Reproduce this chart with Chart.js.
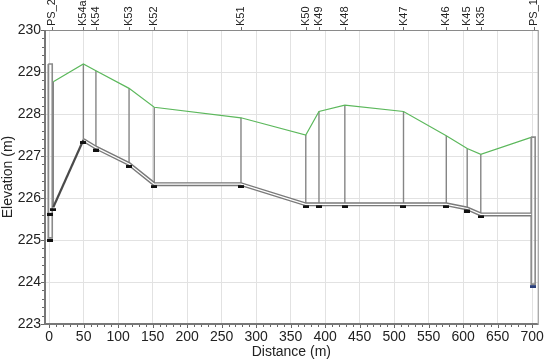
<!DOCTYPE html>
<html>
<head>
<meta charset="utf-8">
<script src="https://cdn.jsdelivr.net/npm/chart.js@4"></script>
<style>
  html, body { margin: 0; padding: 0; background: #fff; }
  #wrap { width: 550px; height: 360px; }
</style>
</head>
<body>
<div id="wrap"><canvas id="chart" width="550" height="360"></canvas></div>
<script>
// manhole nodes along the profile
const nodeNames = ['PS_2', 'K54a', 'K54', 'K53', 'K52', 'K51', 'K50', 'K49', 'K48', 'K47', 'K46', 'K45', 'K35', 'PS_1'];
const labelDist = [4.5, 49.6, 67.8, 115.8, 152.3, 278, 371.9, 391, 428.5, 513.5, 575.5, 605.8, 625.5, 702];

const nodeDist = [6, 49.6, 67.8, 115.8, 152.3, 278, 371.9, 391, 428.5, 513.5, 575.5, 605.8, 625.5];
const groundElev = [228.77, 229.19, 229.03, 228.61, 228.16, 227.91, 227.5, 228.06, 228.21, 228.06, 227.48, 227.18, 227.04];
const invertElev = [225.78, 227.38, 227.2, 226.81, 226.33, 226.33, 225.85, 225.85, 225.85, 225.85, 225.85, 225.75, 225.61];

// pump stations (wet wells)
const ps2Dist = [-1.3, 4.5];
const ps2Elev = [229.19, 225.05];
const ps2Levels = [225.67, 225.05];
const ps1Dist = [698.5, 704.3];
const ps1Elev = [227.45, 223.95];
const ps1Pipe = 225.61;

const xTicks = [0, 50, 100, 150, 200, 250, 300, 350, 400, 450, 500, 550, 600, 650, 700];
const yTicks = [223, 224, 225, 226, 227, 228, 229, 230];

const FONT = "'Liberation Sans', Arial, sans-serif";

function markerImg(color) {
    const c = document.createElement('canvas');
    c.width = 6;
    c.height = 8;
    const g = c.getContext('2d');
    g.fillStyle = color;
    g.fillRect(0, 5, 6, 3);
    return c;
}
const blackMark = markerImg('#111');
const blueMark = markerImg('#2a3f7a');

// ground line: nodes + PS_1 top
const groundPts = nodeDist.map((d, i) => ({ x: d, y: groundElev[i] }));
groundPts.push({ x: ps1Dist[0] + 1, y: ps1Elev[0] });

// pipe from K54a onwards (double line), first leg is a rising main
const risingPts = [0, 1].map(i => ({ x: nodeDist[i], y: invertElev[i] }));
const pipePts = nodeDist.slice(1).map((d, i) => ({ x: d, y: invertElev[i + 1] }));
pipePts.push({ x: ps1Dist[0], y: ps1Pipe });

// manhole verticals
const vertPts = [];
nodeDist.forEach((d, i) => {
    vertPts.push({ x: d, y: groundElev[i] }, { x: d, y: invertElev[i] }, { x: d, y: null });
});

function wellPts(xs, ys) {
    return [
        { x: xs[0], y: ys[0] }, { x: xs[1], y: ys[0] },
        { x: xs[1], y: ys[1] }, { x: xs[0], y: ys[1] },
        { x: xs[0], y: ys[0] }
    ];
}

const markerPts = nodeDist.map((d, i) => ({ x: d, y: invertElev[i] }));
ps2Levels.forEach(v => markerPts.push({ x: (ps2Dist[0] + ps2Dist[1]) / 2, y: v }));

const frameAndLabels = {
    id: 'frameAndLabels',
    afterDraw(chart) {
        const { ctx, chartArea: a, scales } = chart;
        ctx.save();
        ctx.strokeStyle = '#8a8a8a';
        ctx.lineWidth = 1;
        ctx.strokeRect(a.left + 0.5, a.top + 0.5, a.right - a.left, a.bottom - a.top);
        ctx.strokeStyle = '#777';
        ctx.lineWidth = 2;
        ctx.beginPath();
        ctx.moveTo(a.left, a.top);
        ctx.lineTo(a.left, a.bottom);
        ctx.lineTo(a.right, a.bottom);
        ctx.stroke();
        // minor ticks
        ctx.lineWidth = 1;
        ctx.strokeStyle = '#666';
        ctx.beginPath();
        for (let v = 0; v <= 700; v += 10) {
            const px = Math.round(scales.x.getPixelForValue(v)) + 0.5;
            ctx.moveTo(px, a.bottom + 1);
            ctx.lineTo(px, a.bottom + (v % 50 === 0 ? 4 : 3));
        }
        for (let k = 0; k <= 35; k++) {
            const py = Math.round(scales.y.getPixelForValue(223 + k * 0.2)) + 0.5;
            ctx.moveTo(a.left - (k % 5 === 0 ? 4 : 3), py);
            ctx.lineTo(a.left - 1, py);
        }
        // node name ticks on top
        labelDist.forEach(d => {
            const px = Math.round(scales.x.getPixelForValue(d)) + 0.5;
            ctx.moveTo(px, a.top);
            ctx.lineTo(px, a.top - 3);
        });
        ctx.stroke();
        // node names, rotated
        ctx.fillStyle = '#222';
        ctx.font = '11px ' + FONT;
        ctx.textAlign = 'left';
        ctx.textBaseline = 'middle';
        labelDist.forEach((d, i) => {
            const px = scales.x.getPixelForValue(d);
            ctx.save();
            ctx.translate(px, a.top - 4);
            ctx.rotate(-Math.PI / 2);
            ctx.fillText(nodeNames[i], 0, 0);
            ctx.restore();
        });
        ctx.restore();
    }
};

new Chart(document.getElementById('chart'), {
    type: 'line',
    data: {
        datasets: [
            { data: markerPts, showLine: false, pointStyle: blackMark, order: 0 },
            { data: [{ x: (ps1Dist[0] + ps1Dist[1]) / 2, y: ps1Elev[1] }], showLine: false, pointStyle: blueMark, order: 0 },
            { data: risingPts, borderColor: '#4a4a4a', borderWidth: 2.2, pointRadius: 0, order: 1 },
            { data: pipePts, borderColor: '#ffffff', borderWidth: 1.2, pointRadius: 0, order: 2 },
            { data: pipePts, borderColor: '#7a7a7a', borderWidth: 4, pointRadius: 0, order: 3 },
            { data: wellPts(ps2Dist, ps2Elev), borderColor: '#8a8a8a', borderWidth: 1.6, pointRadius: 0, order: 3 },
            { data: wellPts(ps1Dist, ps1Elev), borderColor: '#8a8a8a', borderWidth: 1.6, pointRadius: 0, order: 3 },
            { data: groundPts, borderColor: '#5cb85c', borderWidth: 1.2, pointRadius: 0, order: 4 },
            { data: vertPts, borderColor: '#858585', borderWidth: 1.4, pointRadius: 0, spanGaps: false, order: 5 }
        ]
    },
    options: {
        responsive: false,
        animation: false,
        layout: { padding: { left: 0, right: 11, top: 30, bottom: 0 } },
        elements: { line: { tension: 0 } },
        scales: {
            x: {
                type: 'linear',
                position: 'bottom',
                min: -6,
                max: 708,
                afterBuildTicks: axis => { axis.ticks = xTicks.map(v => ({ value: v })); },
                afterFit: axis => { axis.height = 36; },
                grid: { color: '#e2e2e2', drawTicks: false },
                border: { display: false },
                ticks: { color: '#222', font: { family: FONT, size: 14, lineHeight: 1 }, padding: 6, maxRotation: 0, autoSkip: false },
                title: { display: true, text: 'Distance (m)', color: '#222', font: { family: FONT, size: 14, lineHeight: 1 }, padding: { top: 1, bottom: 1 } }
            },
            y: {
                min: 223,
                max: 230,
                afterBuildTicks: axis => { axis.ticks = yTicks.map(v => ({ value: v })); },
                afterFit: axis => { axis.width = 45; },
                grid: { color: '#e2e2e2', drawTicks: false },
                border: { display: false },
                ticks: { color: '#222', font: { family: FONT, size: 14 }, padding: 4 },
                title: { display: true, text: 'Elevation (m)', color: '#222', font: { family: FONT, size: 14 }, padding: 0 }
            }
        },
        plugins: {
            legend: { display: false },
            tooltip: { enabled: false }
        }
    },
    plugins: [frameAndLabels]
});
</script>
</body>
</html>
